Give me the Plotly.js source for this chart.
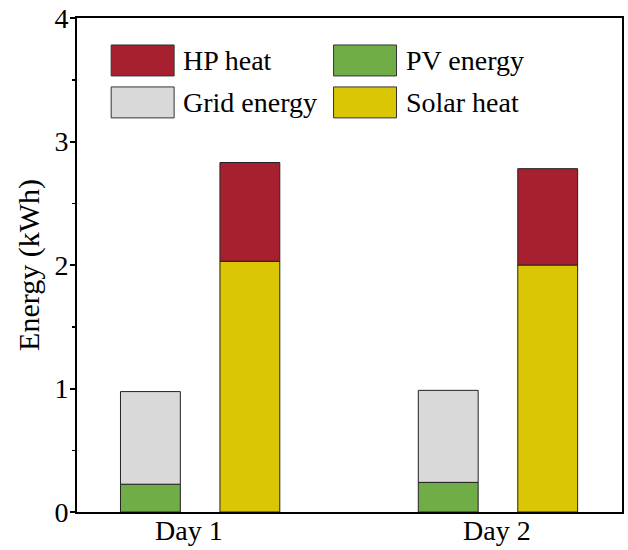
<!DOCTYPE html>
<html>
<head>
<meta charset="utf-8">
<script src="https://cdn.plot.ly/plotly-3.0.1.min.js"></script>
<style>
  html, body { margin: 0; padding: 0; background: #fff; }
  #chart { width: 628px; height: 550px; }
</style>
</head>
<body>
<div id="chart"></div>
<script>
// ---- data ----
const days = ['Day 1', 'Day 2'];
const pvEnergy = [0.225, 0.24];
const gridEnergy = [0.75, 0.745];
const solarHeat = [2.03, 2.0];
const hpHeat = [0.80, 0.78];
const yTicks = [0, 1, 2, 3, 4];

const seriesNames = { hp: 'HP heat', pv: 'PV energy', grid: 'Grid energy', solar: 'Solar heat' };
const colors = { hp: '#A6202F', pv: '#70AD47', grid: '#D9D9D9', solar: '#DAC605' };

const FONT = 'Liberation Serif';
const barW = 0.201;
const leftOff = -0.268;
const rightOff = 0.066;
const outline = { color: '#222', width: 1 };

const traces = [
  { type: 'bar', name: seriesNames.pv, x: days, y: pvEnergy, base: [0, 0],
    offset: leftOff, width: barW, marker: { color: colors.pv, line: outline } },
  { type: 'bar', name: seriesNames.grid, x: days, y: gridEnergy, base: pvEnergy,
    offset: leftOff, width: barW, marker: { color: colors.grid, line: outline } },
  { type: 'bar', name: seriesNames.solar, x: days, y: solarHeat, base: [0, 0],
    offset: rightOff, width: barW, marker: { color: colors.solar, line: outline } },
  { type: 'bar', name: seriesNames.hp, x: days, y: hpHeat, base: solarHeat,
    offset: rightOff, width: barW, marker: { color: colors.hp, line: outline } }
];

// custom legend (large swatches), built from series names/colours
const W = 628, H = 550;
const margin = { l: 76.5, r: 6, t: 18, b: 37.5 };
const pw = W - margin.l - margin.r, ph = H - margin.t - margin.b;
const px = v => (v - margin.l) / pw;
const py = v => (H - margin.b - v) / ph;
const legendItems = [
  { key: 'hp', col: 0, row: 0 },
  { key: 'pv', col: 1, row: 0 },
  { key: 'grid', col: 0, row: 1 },
  { key: 'solar', col: 1, row: 1 }
];
const colX = [110.7, 333.3];
const rowY = [45, 87];
const swW = 63, swH = 31;
const shapes = [], annotations = [];
legendItems.forEach(it => {
  const x0 = colX[it.col], y0 = rowY[it.row];
  shapes.push({ type: 'rect', xref: 'paper', yref: 'paper',
    x0: px(x0), x1: px(x0 + swW), y0: py(y0 + swH), y1: py(y0),
    fillcolor: colors[it.key], line: { color: '#333', width: 1 } });
  annotations.push({ xref: 'paper', yref: 'paper', x: px(x0 + swW + 7), y: py(y0 + swH / 2),
    xanchor: 'left', yanchor: 'middle', showarrow: false, text: seriesNames[it.key],
    font: { family: FONT, size: 28, color: '#000' } });
});
// category labels under the axis (as in the reference, Day 1 sits slightly left of its group)
const labelShift = [-11, -1];
days.forEach((d, i) => {
  annotations.push({ xref: 'x', yref: 'paper', x: d, y: 0, yshift: -1, xshift: labelShift[i],
    xanchor: 'center', yanchor: 'top', showarrow: false, text: d,
    font: { family: FONT, size: 28, color: '#000' } });
});

const layout = {
  width: W, height: H,
  margin: margin,
  paper_bgcolor: '#fff', plot_bgcolor: '#fff',
  barmode: 'overlay',
  showlegend: false,
  font: { family: FONT, size: 28, color: '#000' },
  xaxis: {
    type: 'category', range: [-0.414, 1.416],
    showline: true, linecolor: '#000', linewidth: 2, mirror: true,
    ticks: '', showgrid: false, zeroline: false,
    showticklabels: false
  },
  yaxis: {
    range: [0, 4], tickvals: yTicks, ticktext: yTicks.map(String),
    showline: true, linecolor: '#000', linewidth: 2, mirror: true,
    ticks: 'outside', ticklen: 5, tickwidth: 2, tickcolor: '#000',
    minor: { dtick: 0.5, ticks: 'outside', ticklen: 3, tickwidth: 1.5, tickcolor: '#000', showgrid: false },
    showgrid: false, zeroline: false,
    ticklabelstandoff: -4,
    tickfont: { family: FONT, size: 28, color: '#000' },
    title: { text: 'Energy (kWh)', font: { family: FONT, size: 30, color: '#000' }, standoff: 6 }
  },
  shapes: shapes,
  annotations: annotations
};

Plotly.newPlot('chart', traces, layout, { displayModeBar: false, staticPlot: true });
</script>
</body>
</html>
